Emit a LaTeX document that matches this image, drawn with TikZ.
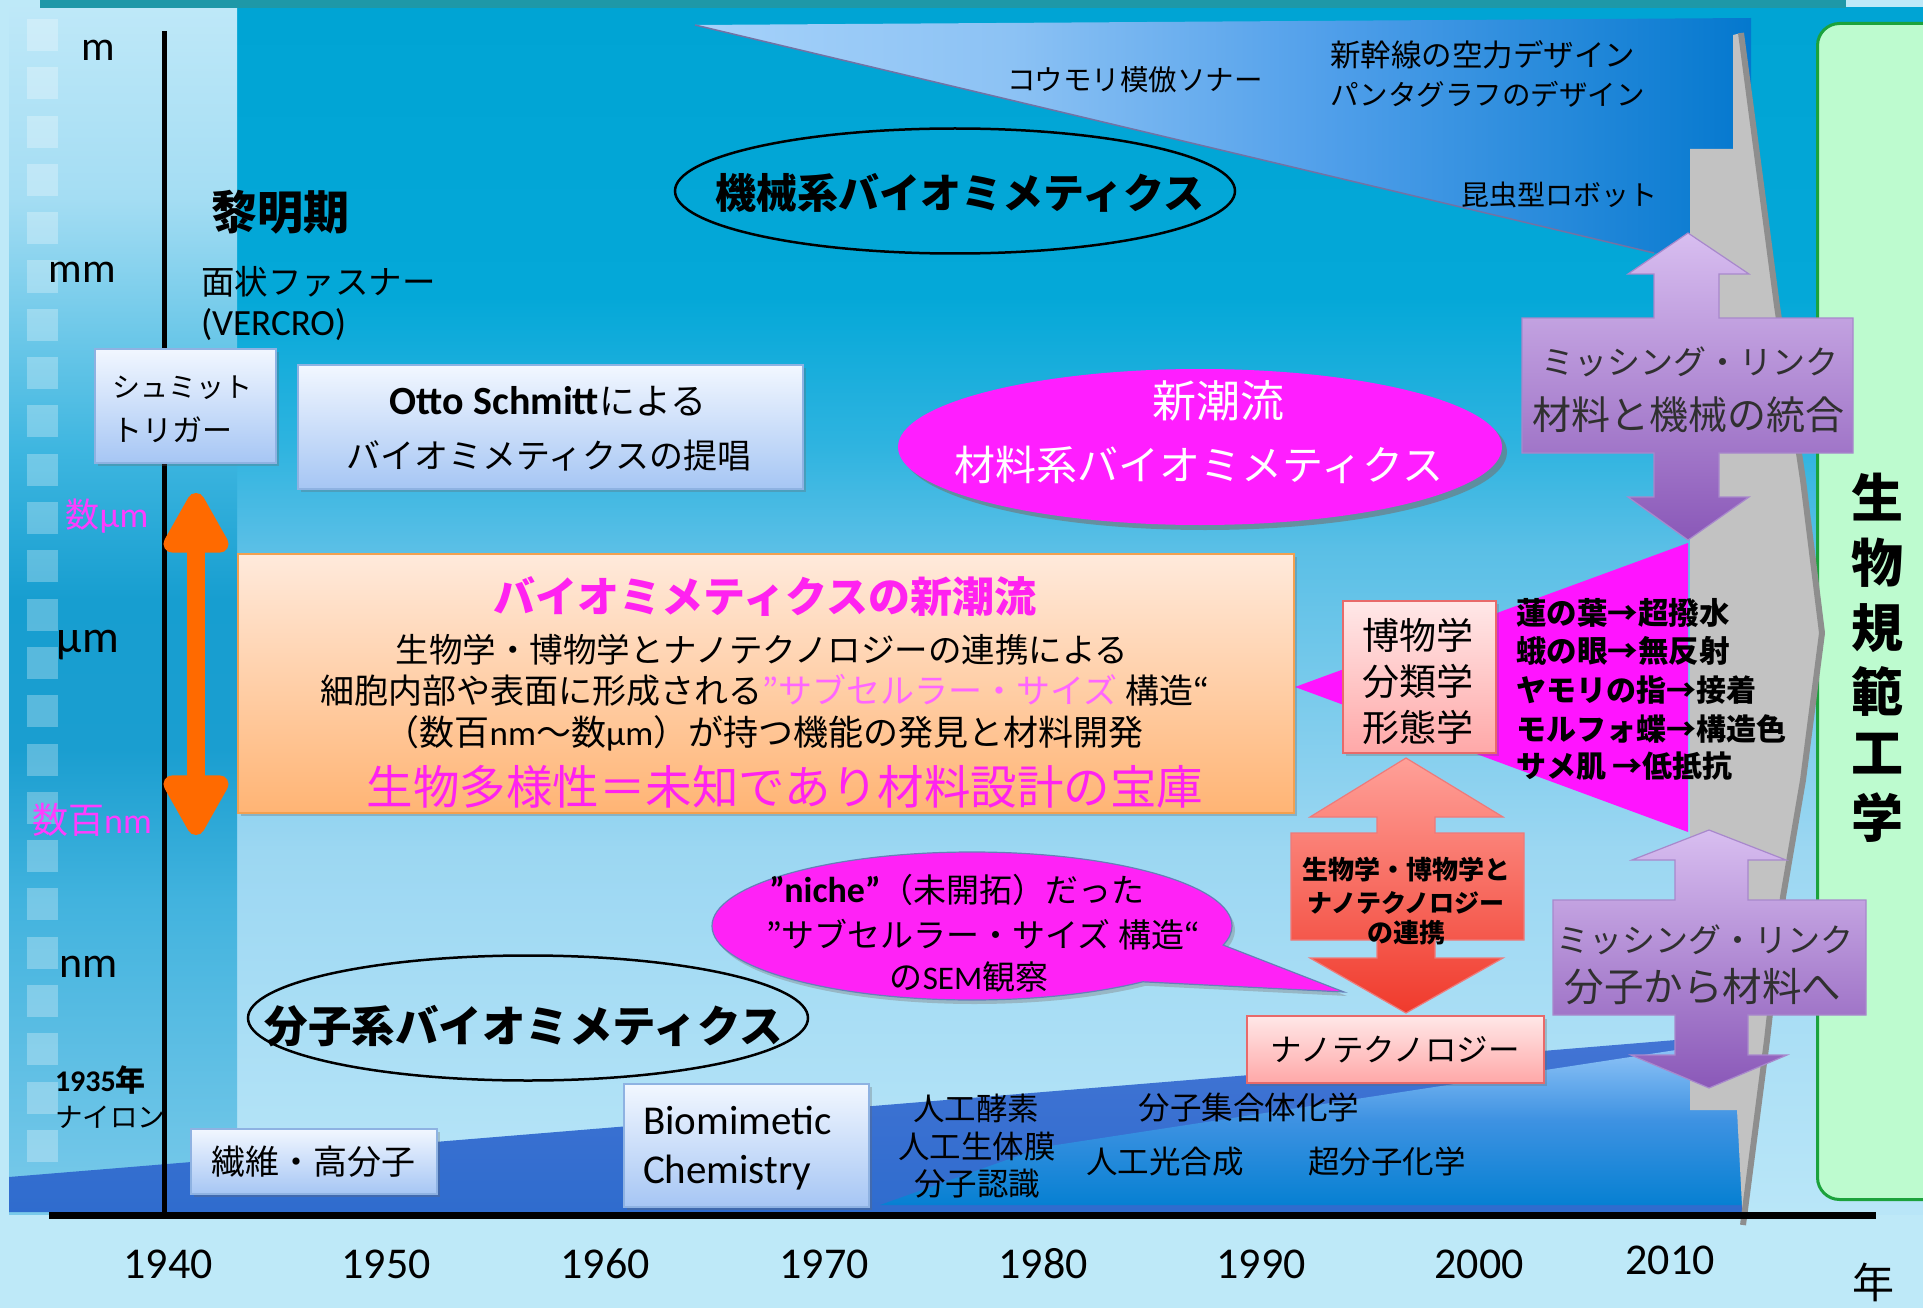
\documentclass[tikz,border=0pt]{standalone}
\usepackage{fontspec}
\setmainfont{Carlito}
\newfontfamily\jp{Noto Sans CJK JP}
\newfontfamily\latf{Carlito}
\usetikzlibrary{shapes.geometric,shapes.callouts,shadows,arrows.meta}

\definecolor{bgLight}{HTML}{BEE9F8}
\definecolor{topbar}{HTML}{1E98A8}
\definecolor{mbA}{HTML}{00A4D4}\definecolor{mbB}{HTML}{04A8D8}\definecolor{mbC}{HTML}{30B4E0}
\definecolor{mbD}{HTML}{5ABFE6}\definecolor{mbE}{HTML}{9CD7F2}\definecolor{mbF}{HTML}{B9E6F8}
\definecolor{lsA}{HTML}{BEE8F8}\definecolor{lsB}{HTML}{A4DDF3}\definecolor{lsC}{HTML}{3EB6E0}
\definecolor{lsD}{HTML}{179ED0}\definecolor{lsE}{HTML}{1A9ED0}\definecolor{lsF}{HTML}{42B3DE}
\definecolor{lsG}{HTML}{7ACAEA}
\definecolor{mA}{HTML}{A6D2FA}\definecolor{mB}{HTML}{8CC2F4}\definecolor{mC}{HTML}{509FEA}\definecolor{mD}{HTML}{0478CE}
\definecolor{wA1}{HTML}{4274D4}\definecolor{wA2}{HTML}{2F6CCE}
\definecolor{wB1}{HTML}{8CC2F6}\definecolor{wB2}{HTML}{3E92E2}\definecolor{wB3}{HTML}{0680D2}
\definecolor{grnF}{HTML}{BDFBCF}\definecolor{grnD}{HTML}{1CA23C}
\definecolor{gryF}{HTML}{C2C2C2}\definecolor{gryD}{HTML}{8E8E8E}
\definecolor{magT}{HTML}{FF14FF}\definecolor{magE}{HTML}{FF1EFF}\definecolor{magB}{HTML}{FF22F6}
\definecolor{bubD}{HTML}{6680B8}\definecolor{magL}{HTML}{FF3CFF}\definecolor{magTitle}{HTML}{FF22F0}
\definecolor{magSub}{HTML}{FF66FF}
\definecolor{oboxT}{HTML}{FFEADC}\definecolor{oboxB}{HTML}{FFB474}\definecolor{oboxD}{HTML}{F2A050}
\definecolor{bbT}{HTML}{F2F7FF}\definecolor{bbB}{HTML}{A6C6F4}\definecolor{bbD}{HTML}{8EB2E2}
\definecolor{pkT}{HTML}{FFE8E8}\definecolor{pkB}{HTML}{FFA8A8}\definecolor{pkD}{HTML}{E86A6A}
\definecolor{purT}{HTML}{D8BEF0}\definecolor{purB}{HTML}{8A58B8}\definecolor{purD}{HTML}{A888CC}
\definecolor{redT}{HTML}{FFA098}\definecolor{redB}{HTML}{F03A2C}\definecolor{redD}{HTML}{EE7A7A}
\definecolor{orangeA}{HTML}{FF6A00}
\definecolor{txtD}{HTML}{303030}

\pgfdeclareverticalshading{mainbg}{100bp}{color(0bp)=(mbF); color(25bp)=(mbF); color(40bp)=(mbE); color(52.6bp)=(mbD); color(56.7bp)=(mbC); color(63bp)=(mbB); color(75bp)=(mbA); color(100bp)=(mbA)}
\pgfdeclareverticalshading{leftbg}{100bp}{color(0bp)=(lsG); color(25bp)=(lsG); color(38bp)=(lsF); color(44.3bp)=(lsE); color(50.5bp)=(lsD); color(56.7bp)=(lsC); color(67.1bp)=(lsB); color(75bp)=(lsA); color(100bp)=(lsA)}
\pgfdeclarehorizontalshading{mechsh}{100bp}{color(0bp)=(mA); color(25bp)=(mA); color(40bp)=(mB); color(55bp)=(mC); color(75bp)=(mD); color(100bp)=(mD)}
\pgfdeclareverticalshading{wedgeB}{100bp}{color(0bp)=(wB3); color(25bp)=(wB3); color(52.4bp)=(wB2); color(75bp)=(wB1); color(100bp)=(wB1)}

\tikzset{
  lbl/.style={inner sep=0pt, outer sep=0pt},
  jt/.style={lbl, font={\jp\fontsize{#1}{#1}\selectfont}},
  jb/.style={lbl, font={\jp\bfseries\fontsize{#1}{#1}\selectfont}},
  lt/.style={lbl, font={\latf\fontsize{#1}{#1}\selectfont}},
  bluebox/.style={draw=bbD, line width=1.5pt, top color=bbT, bottom color=bbB, inner sep=0pt, anchor=north west,
     drop shadow={shadow xshift=3pt, shadow yshift=-3pt, fill=black!60, opacity=0.3}},
  pinkbox/.style={draw=pkD, line width=1.5pt, top color=pkT, bottom color=pkB, inner sep=0pt, anchor=north west,
     drop shadow={shadow xshift=3pt, shadow yshift=-3pt, fill=black!60, opacity=0.3}},
  orangebox/.style={draw=oboxD, line width=1.5pt, top color=oboxT, bottom color=oboxB, inner sep=0pt, anchor=north west,
     drop shadow={shadow xshift=3pt, shadow yshift=-3pt, fill=black!60, opacity=0.3}},
  blockpur/.style={draw=purD, line width=1.2pt, top color=purT, bottom color=purB},
  blockred/.style={draw=redD, line width=1.2pt, top color=redT, bottom color=redB},
  ovalline/.style={ellipse, draw=black, line width=2.5pt, inner sep=0pt},
}

\begin{document}
\begin{tikzpicture}[x=1pt,y=-1pt]
\useasboundingbox (0,0) rectangle (1923,1308);
% backgrounds
\fill[bgLight] (0,0) rectangle (1923,1308);
\shade[shading=mainbg] (237,8) rectangle (1923,1214);
\shade[shading=leftbg] (9,8) rectangle (237,1214);
\foreach \k in {0,...,23} \fill[white,opacity=0.28] (27,{19+48.3*\k}) rectangle (58,{51+48.3*\k});
\fill[topbar] (40,0) rectangle (1846,8);

% mechanical region
\shade[shading=mechsh] (695,25) -- (1751,18) -- (1751,262) -- (1654,253) -- cycle;
\draw[color=gryD!80!blue, line width=1.5pt] (695,25) -- (1654,253);

% molecular wedge
\shade[top color=wA1, bottom color=wA2] (9,1177) -- (1676,1040) -- (1745,1040) -- (1745,1212) -- (9,1212) -- cycle;
\shade[shading=wedgeB] (880,1205) -- (1043,1147) -- (1676,1050) -- (1745,1050) -- (1745,1205) -- cycle;

% green box
\node[draw=grnD, fill=grnF, line width=3pt, rounded corners=22pt, minimum width=140, minimum height=1176, anchor=north west, inner sep=0pt] (gbox) at (1816,22) {};

% magenta triangle
\fill[magT] (1295,687) -- (1688,543) -- (1688,832) -- cycle;

% gray chevron
\fill[gryF] (1733,35) -- (1741,33) -- (1777,306) -- (1803,480) -- (1822,633) -- (1803,780) -- (1783,897) -- (1767,1040) -- (1743,1225) -- (1737,1110) -- (1690,1110) -- (1690,149) -- (1733,149) -- cycle;
\draw[gryD, line width=6pt, line join=round] (1741,33) -- (1777,306) -- (1803,480) -- (1822,633) -- (1803,780) -- (1783,897) -- (1767,1040) -- (1743,1225);

% axes
\coordinate (vtop) at (164,31);
\coordinate (vbot) at (164,1214);
\coordinate (hl) at (49,1215);
\coordinate (hr) at (1876,1215);
\draw[line width=5pt] (vtop) -- (vbot);
\draw[line width=7pt] (hl) -- (hr);

% vertical text in green box
\foreach \ch/\yy/\nm in {生/497/g1, 物/563/g2, 規/628/g3, 範/691/g4, 工/754/g5, 学/818/g6}
  \node[jb=52] (\nm) at (1877,\yy) {\ch};

% years
\foreach \yr/\xx in {1940/168, 1950/386, 1960/605, 1970/824, 1980/1043, 1990/1261, 2000/1479}
  \node[lt=44] (yr\yr) at (\xx,1264) {\yr};
\node[lt=44] (yr2010) at (1670,1260) {2010};
\node[jt=42] (nen) at (1873,1282) {年};

% scale labels
\node[lt=42] (sm) at (98,50) {m};
\node[lt=42] (smm) at (82,272) {mm};
\node[lbl, text=magL, font={\latf\fontsize{36}{36}\selectfont}] (sum1) at (107,516) {{\jp\fontsize{34}{34}\selectfont 数}μm};
\node[lt=46] (sum) at (88,645) {μm};
\node[lbl, text=magL, font={\latf\fontsize{36}{36}\selectfont}] (snm1) at (92,820) {{\jp 数百}nm};
\node[lt=44] (snm) at (89,967) {nm};
\node[lbl, anchor=west, font={\latf\bfseries\fontsize{30}{30}\selectfont}] (n1935) at (55,1080) {1935{\jp 年}};
\node[jt=27.5, anchor=west] (nylon) at (55,1117) {ナイロン};

% orange double arrow
\coordinate (oa) at (196,493);
\coordinate (ob) at (196,835);
\draw[orangeA, line width=18pt, {Triangle[width=72pt,length=70pt,round]}-{Triangle[width=72pt,length=70pt,round]}] (oa) -- (ob);

% mechanical texts
\node[jt=28.5] (bat) at (1135,80) {コウモリ模倣ソナー};
\node[jt=30.5, anchor=west] (shin) at (1330,55) {新幹線の空力デザイン};
\node[jt=28.5, anchor=west] (panta) at (1330,94) {パンタグラフのデザイン};
\node[jt=28, anchor=west] (konchu) at (1461,195) {昆虫型ロボット};
\node[ovalline, minimum width=560, minimum height=125] (kikai) at (955,191) {};
\node[jb=41] (kikaitxt) at (960,193) {機械系バイオミメティクス};

% early period
\node[jb=46] (reimei) at (280,212) {黎明期};
\node[jt=33.5, anchor=west] (fastener) at (201,282) {面状ファスナー};
\node[lt=37, anchor=west] (vercro) at (201,325) {(VERCRO)};

% Schmitt trigger box
\node[bluebox, minimum width=181, minimum height=114] (schbox) at (94,348) {};
\node[jt=28, anchor=west] (sch1) at (112,388) {シュミット};
\node[jt=30, anchor=west] (sch2) at (112,430) {トリガー};

% Otto Schmitt box
\node[bluebox, minimum width=505, minimum height=124] (ottobox) at (297,364) {};
\node[lbl, font={\latf\bfseries\fontsize{40}{40}\selectfont}] (otto1) at (548,401) {Otto Schmitt{\jp\mdseries\fontsize{36}{36}\selectfont による}};
\node[jt=34] (otto2) at (549,456) {バイオミメティクスの提唱};

% new trend ellipse
\node[ellipse, fill=magE, minimum width=604, minimum height=156, inner sep=0pt,
      drop shadow={shadow xshift=5pt, shadow yshift=-5pt, fill=black!55, opacity=0.6}] (shinell) at (1200,447) {};
\node[jt=44, text=white] (shin1) at (1218,401) {新潮流};
\node[jt=41, text=white] (shin2) at (1199,465) {材料系バイオミメティクス};

% orange box
\node[orangebox, minimum width=1056, minimum height=259] (obox) at (237,553) {};
\node[jb=42, text=magTitle] (ob1) at (765,597) {バイオミメティクスの新潮流};
\node[jt=33.5] (ob2) at (762,650) {生物学・博物学とナノテクノロジーの連携による};
\node[jt=34] (ob3) at (765,690) {細胞内部や表面に形成される{\color{magSub}”サブセルラー・サイズ} 構造“};
\node[jt=35] (ob4) at (764,733) {（数百{\latf nm}～数{\latf μm}）が持つ機能の発見と材料開発};
\node[jt=46.5, text=magTitle] (ob5) at (785,787) {生物多様性＝未知であり材料設計の宝庫};

% triangle texts
\node[jb=30.5, anchor=west] (t1) at (1516,613) {蓮の葉→超撥水};
\node[jb=30.5, anchor=west] (t2) at (1516,651) {蛾の眼→無反射};
\node[jb=30, anchor=west] (t3) at (1516,690) {ヤモリの指→接着};
\node[jb=30, anchor=west] (t4) at (1516,729) {モルフォ蝶→構造色};
\node[jb=30, anchor=west] (t5) at (1516,766) {サメ肌 →低抵抗};

% natural history box
\node[pinkbox, minimum width=153, minimum height=152] (hakubox) at (1342,600) {};
\node[jt=37] (h1) at (1418,635) {博物学};
\node[jt=37] (h2) at (1418,681) {分類学};
\node[jt=37] (h3) at (1418,727) {形態学};

% red double block arrow
\path[blockred] (1406,758) -- (1503,817) -- (1435,817) -- (1435,833) -- (1524,833) -- (1524,940) -- (1435,940) -- (1435,958) -- (1503,958) -- (1406,1013) -- (1310,958) -- (1377,958) -- (1377,940) -- (1291,940) -- (1291,833) -- (1377,833) -- (1377,817) -- (1310,817) -- cycle;
\node[jb=26] (r1) at (1406,870) {生物学・博物学と};
\node[jb=25] (r2) at (1406,903) {ナノテクノロジー};
\node[jb=26] (r3) at (1406,933) {の連携};

% nanotech box
\node[pinkbox, minimum width=297, minimum height=67, font={\jp\fontsize{31.5}{31.5}\selectfont}] (nanobox) at (1246,1015) {ナノテクノロジー};

% purple upper block arrow
\path[blockpur] (1688,233) -- (1749,274) -- (1719,274) -- (1719,318) -- (1853,318) -- (1853,453) -- (1719,453) -- (1719,497) -- (1749,497) -- (1688,540) -- (1628,497) -- (1654,497) -- (1654,453) -- (1522,453) -- (1522,318) -- (1654,318) -- (1654,274) -- (1628,274) -- cycle;
\node[jt=33, text=txtD] (pu1) at (1690,362) {ミッシング・リンク};
\node[jt=39, text=txtD] (pu2) at (1688,415) {材料と機械の統合};

% purple lower block arrow
\path[blockpur] (1709,830) -- (1786,860) -- (1748,860) -- (1748,900) -- (1866,900) -- (1866,1015) -- (1748,1015) -- (1748,1055) -- (1787,1055) -- (1709,1088) -- (1631,1055) -- (1675,1055) -- (1675,1015) -- (1553,1015) -- (1553,900) -- (1675,900) -- (1675,860) -- (1632,860) -- cycle;
\node[jt=33, text=txtD] (pl1) at (1705,940) {ミッシング・リンク};
\node[jt=39.5, text=txtD] (pl2) at (1703,987) {分子から材料へ};

% speech bubble
\node[ellipse callout, callout absolute pointer={(1344,992)}, callout pointer arc=34, minimum width=520, minimum height=148,
      inner sep=0pt, fill=magB, draw=bubD, line width=1.2pt,
      drop shadow={shadow xshift=3pt, shadow yshift=-4pt, fill=black!50, opacity=0.4}] (bubble) at (972,926) {};
\node[lbl, font={\latf\bfseries\fontsize{36}{36}\selectfont}] (bb1) at (957,890) {”niche”{\jp\mdseries\fontsize{33}{33}\selectfont （未開拓）だった}};
\node[jt=33] (bb2) at (983,935) {”サブセルラー・サイズ 構造“};
\node[lbl, font={\jp\fontsize{33}{33}\selectfont}] (bb3) at (969,977) {の{\latf SEM}観察};

% molecular biomimetics
\node[ovalline, minimum width=560, minimum height=125] (bunshi) at (528,1018) {};
\node[jb=43.5] (bunshitxt) at (524,1026) {分子系バイオミメティクス};
\node[bluebox, minimum width=246, minimum height=65, font={\jp\fontsize{34}{34}\selectfont}] (seni) at (190,1128) {繊維・高分子};
\node[bluebox, minimum width=245, minimum height=123] (biobox) at (623,1083) {};
\node[lt=41, anchor=west] (bio1) at (643,1120) {Biomimetic};
\node[lt=41, anchor=west] (bio2) at (643,1173) {Chemistry};

\node[jt=31.5] (w1) at (976,1108) {人工酵素};
\node[jt=31.5] (w2) at (977,1147) {人工生体膜};
\node[jt=31.5] (w3) at (977,1184) {分子認識};
\node[jt=31.5] (w4) at (1249,1108) {分子集合体化学};
\node[jt=31.5] (w5) at (1165,1162) {人工光合成};
\node[jt=31.5] (w6) at (1387,1162) {超分子化学};
\end{tikzpicture}
\end{document}
